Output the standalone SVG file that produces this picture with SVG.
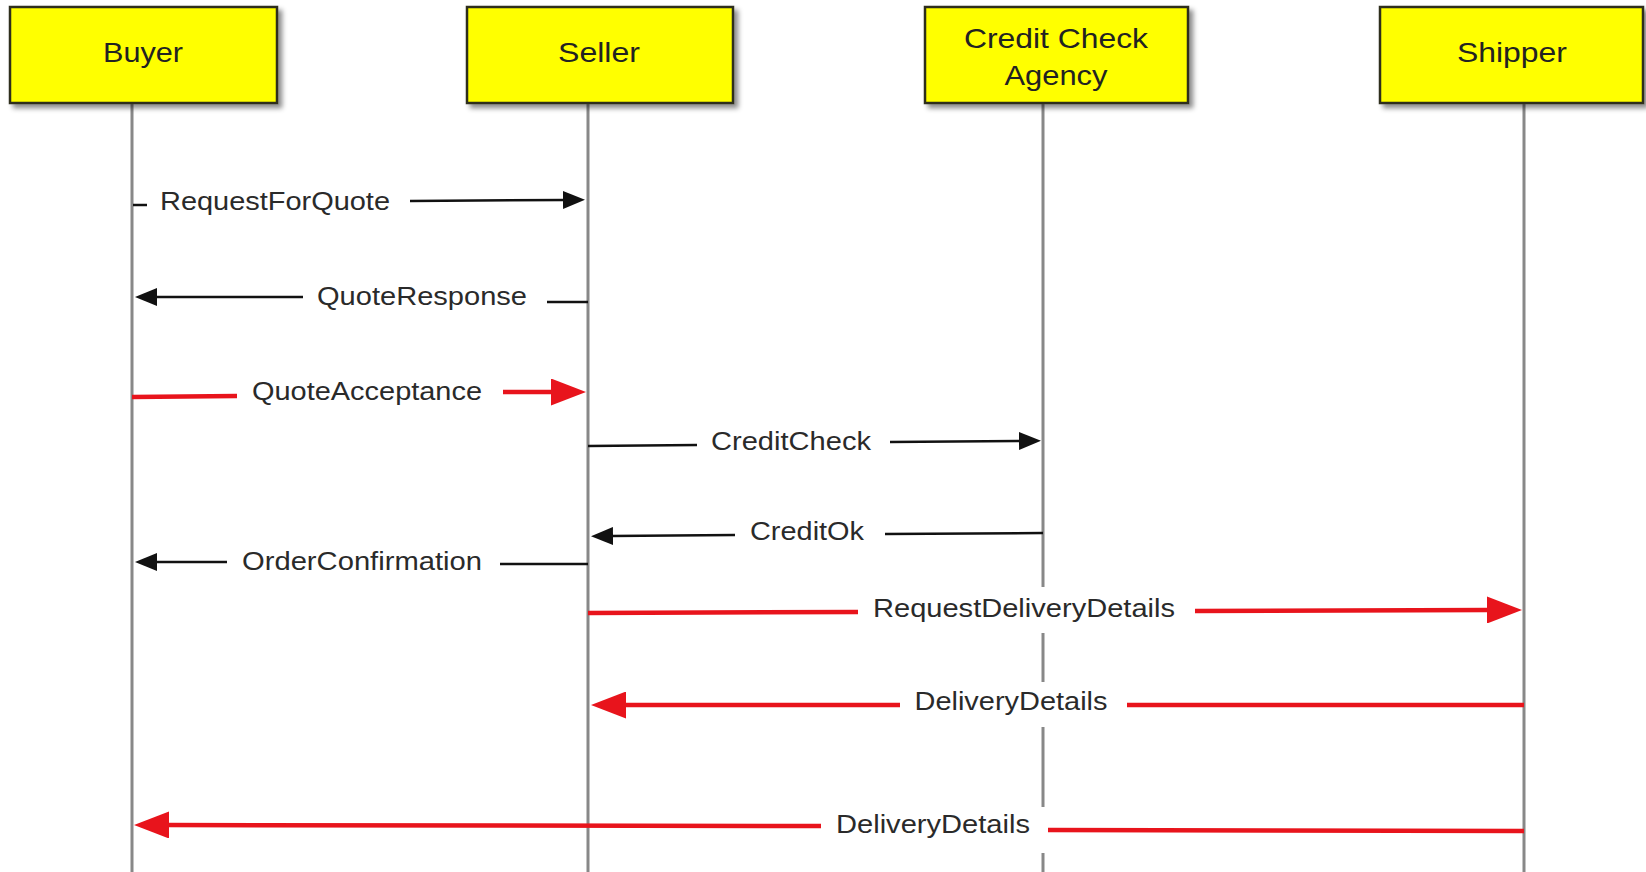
<svg xmlns="http://www.w3.org/2000/svg" width="1646" height="872" viewBox="0 0 1646 872">
<style>
.box{fill:#ffff00;stroke:#2e2e1a;stroke-width:2.5;filter:url(#sh)}
.bt{font-family:"Liberation Sans",Arial,sans-serif;font-size:28px;fill:#222;text-anchor:middle}
.life{stroke:#888;stroke-width:3;fill:none}
.blk{stroke:#111;stroke-width:2.5;fill:none}
.red{stroke:#e8141c;stroke-width:4.5;fill:none}
.ml{font-family:"Liberation Sans",Arial,sans-serif;font-size:26px;fill:#2a2a2a;text-anchor:middle}
</style>
<defs>
<filter id="sh" x="-10%" y="-10%" width="125%" height="135%">
<feDropShadow dx="4" dy="4" stdDeviation="2.5" flood-color="#000" flood-opacity="0.45"/>
</filter>
<marker id="ab" markerUnits="userSpaceOnUse" markerWidth="22" markerHeight="18" refX="2" refY="9" orient="auto">
<path d="M0,0 L22,9 L0,18 Z" fill="#111"/>
</marker>
<marker id="ar" markerUnits="userSpaceOnUse" markerWidth="35" markerHeight="27" refX="2" refY="13.5" orient="auto">
<path d="M0,0 L35,13.5 L0,27 Z" fill="#e8141c"/>
</marker>
</defs>
<rect width="1646" height="872" fill="#fff"/>

<g id="lifelines">
<path class="life" d="M132,103 V872"/>
<path class="life" d="M588,103 V872"/>
<path class="life" d="M1043,103 V587 M1043,633 V682 M1043,727 V807 M1043,853 V872"/>
<path class="life" d="M1524,103 V872"/>
</g>

<g id="buyer">
<rect class="box" x="10" y="7" width="267" height="96"/>
<text class="bt" x="143" y="62" textLength="80" lengthAdjust="spacingAndGlyphs">Buyer</text>
</g>
<g id="seller">
<rect class="box" x="467" y="7" width="266" height="96"/>
<text class="bt" x="599" y="62" textLength="82" lengthAdjust="spacingAndGlyphs">Seller</text>
</g>
<g id="credit-check-agency">
<rect class="box" x="925" y="7" width="263" height="96"/>
<text class="bt" x="1056" y="48" textLength="184" lengthAdjust="spacingAndGlyphs">Credit Check</text>
<text class="bt" x="1056" y="85" textLength="103" lengthAdjust="spacingAndGlyphs">Agency</text>
</g>
<g id="shipper">
<rect class="box" x="1380" y="7" width="263" height="96"/>
<text class="bt" x="1512" y="62" textLength="110" lengthAdjust="spacingAndGlyphs">Shipper</text>
</g>

<g id="connectors">
<path class="blk" d="M133,205 L147,205"/>
<path class="blk" d="M410,201 L565,200" marker-end="url(#ab)"/>
<text class="ml" x="275" y="210" textLength="230" lengthAdjust="spacingAndGlyphs">RequestForQuote</text>

<path class="blk" d="M588,302 L547,302"/>
<path class="blk" d="M303,297 L155,297" marker-end="url(#ab)"/>
<text class="ml" x="422" y="305" textLength="210" lengthAdjust="spacingAndGlyphs">QuoteResponse</text>

<path class="red" d="M132,397 L237,396"/>
<path class="red" d="M503,392 L553,392" marker-end="url(#ar)"/>
<text class="ml" x="367" y="400" textLength="230" lengthAdjust="spacingAndGlyphs">QuoteAcceptance</text>

<path class="blk" d="M588,446 L697,445"/>
<path class="blk" d="M890,442 L1021,441" marker-end="url(#ab)"/>
<text class="ml" x="791" y="450" textLength="160" lengthAdjust="spacingAndGlyphs">CreditCheck</text>

<path class="blk" d="M1043,533 L885,534"/>
<path class="blk" d="M735,535 L611,536" marker-end="url(#ab)"/>
<text class="ml" x="807" y="540" textLength="114" lengthAdjust="spacingAndGlyphs">CreditOk</text>

<path class="blk" d="M588,564 L500,564"/>
<path class="blk" d="M227,562 L155,562" marker-end="url(#ab)"/>
<text class="ml" x="362" y="570" textLength="240" lengthAdjust="spacingAndGlyphs">OrderConfirmation</text>

<path class="red" d="M588,613 L858,612"/>
<path class="red" d="M1195,611 L1489,610" marker-end="url(#ar)"/>
<text class="ml" x="1024" y="617" textLength="302" lengthAdjust="spacingAndGlyphs">RequestDeliveryDetails</text>

<path class="red" d="M1524,705 L1127,705"/>
<path class="red" d="M900,705 L624,705" marker-end="url(#ar)"/>
<text class="ml" x="1011" y="710" textLength="193" lengthAdjust="spacingAndGlyphs">DeliveryDetails</text>

<path class="red" d="M1524,831 L1048,830"/>
<path class="red" d="M821,826 L167,825" marker-end="url(#ar)"/>
<text class="ml" x="933" y="833" textLength="194" lengthAdjust="spacingAndGlyphs">DeliveryDetails</text>
</g>
</svg>
